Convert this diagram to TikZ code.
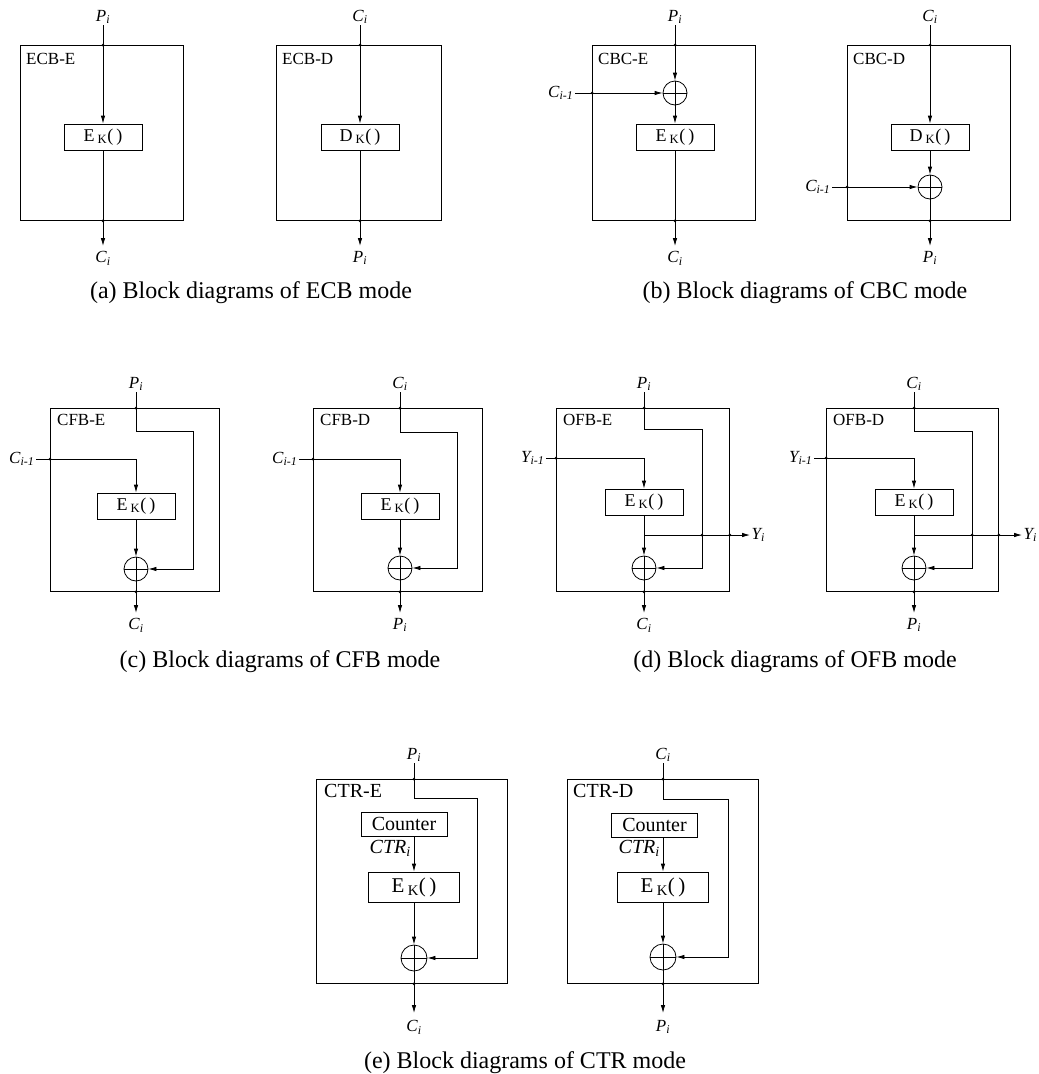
\documentclass[tikz,border=0pt]{standalone}
\usepackage{fontspec}
\setmainfont{Liberation Serif}
\usetikzlibrary{arrows.meta}
\begin{document}
\begin{tikzpicture}[x=1pt,y=-1pt,
  blk/.style={draw, line width=0.8pt, inner sep=0, anchor=north west},
  fn/.style={draw, line width=0.8pt, inner sep=0, minimum width=78pt, minimum height=26pt, font=\fontsize{18}{18}\selectfont},
  fnB/.style={fn, minimum width=91pt, minimum height=30pt, font=\fontsize{21}{21}\selectfont},
  ctrbox/.style={draw, line width=0.8pt, inner sep=0, minimum width=86pt, minimum height=24pt, font=\fontsize{20}{20}\selectfont},
  xor/.style={draw, circle, line width=0.8pt, inner sep=0, minimum size=24pt,
    path picture={\draw[line width=0.8pt] (path picture bounding box.north) -- (path picture bounding box.south) (path picture bounding box.west) -- (path picture bounding box.east);}},
  ttl/.style={anchor=base west, inner sep=0, font=\fontsize{17}{17}\selectfont},
  ttlB/.style={ttl, font=\fontsize{20}{20}\selectfont},
  lab/.style={inner sep=1.5pt, font=\fontsize{17}{17}\selectfont\itshape},
  labB/.style={lab, font=\fontsize{20}{20}\selectfont\itshape},
  olab/.style={lab, anchor=north, inner ysep=5pt},
  ilab/.style={lab, anchor=south, inner ysep=1pt},
  captxt/.style={anchor=base, inner sep=0, font=\fontsize{24}{24}\selectfont},
  dot/.style={circle, fill, inner sep=0, minimum size=3pt},
  arr/.style={-{Latex[length=8pt,width=4.5pt]}, line width=0.8pt}
]
\useasboundingbox (0,0) rectangle (1039,1074);

% ===== (a) ECB-E
\node[blk, minimum width=163pt, minimum height=175pt] (fA1) at (20,45) {};
\node[ttl] (tA1) at (26,64) {ECB-E};
\node[fn] (kA1) at (103,137) {E\,\textsubscript{K}(\,)};
\node[ilab] (iA1) at (103,25) {P\textsubscript{i}};
\node[olab] (oA1) at (103,246) {C\textsubscript{i}};
\draw[arr] (iA1) -- (kA1);
\draw[arr] (kA1) -- (oA1);
\node[dot] (dA1a) at (fA1.north -| kA1) {};
\node[dot] (dA1b) at (fA1.south -| kA1) {};

% ===== (a) ECB-D
\node[blk, minimum width=165pt, minimum height=175pt] (fA2) at (276,45) {};
\node[ttl] (tA2) at (282,64) {ECB-D};
\node[fn] (kA2) at (360,137) {D\,\textsubscript{K}(\,)};
\node[ilab] (iA2) at (360,25) {C\textsubscript{i}};
\node[olab] (oA2) at (360,246) {P\textsubscript{i}};
\draw[arr] (iA2) -- (kA2);
\draw[arr] (kA2) -- (oA2);
\node[dot] (dA2a) at (fA2.north -| kA2) {};
\node[dot] (dA2b) at (fA2.south -| kA2) {};

\node[captxt] (capA) at (251,298) {(a) Block diagrams of ECB mode};

% ===== (b) CBC-E
\node[blk, minimum width=163pt, minimum height=175pt] (fB1) at (592,45) {};
\node[ttl] (tB1) at (598,64) {CBC-E};
\node[xor] (xB1) at (675,93) {};
\node[fn] (kB1) at (675,137) {E\,\textsubscript{K}(\,)};
\node[ilab] (iB1) at (675,25) {P\textsubscript{i}};
\node[olab] (oB1) at (675,246) {C\textsubscript{i}};
\node[lab, anchor=east] (cB1) at (575,93) {C\textsubscript{i-1}};
\draw[arr] (iB1) -- (xB1);
\draw[arr] (xB1) -- (kB1);
\draw[arr] (kB1) -- (oB1);
\draw[arr] (cB1) -- (xB1);
\node[dot] (dB1a) at (fB1.north -| xB1) {};
\node[dot] (dB1b) at (fB1.south -| xB1) {};
\node[dot] (dB1c) at (fB1.west |- xB1) {};

% ===== (b) CBC-D
\node[blk, minimum width=163pt, minimum height=175pt] (fB2) at (847,45) {};
\node[ttl] (tB2) at (853,64) {CBC-D};
\node[fn] (kB2) at (930,137) {D\,\textsubscript{K}(\,)};
\node[xor] (xB2) at (930,187) {};
\node[ilab] (iB2) at (930,25) {C\textsubscript{i}};
\node[olab] (oB2) at (930,246) {P\textsubscript{i}};
\node[lab, anchor=east] (cB2) at (832,187) {C\textsubscript{i-1}};
\draw[arr] (iB2) -- (kB2);
\draw[arr] (kB2) -- (xB2);
\draw[arr] (xB2) -- (oB2);
\draw[arr] (cB2) -- (xB2);
\node[dot] (dB2a) at (fB2.north -| xB2) {};
\node[dot] (dB2b) at (fB2.south -| xB2) {};
\node[dot] (dB2c) at (fB2.west |- xB2) {};

\node[captxt] (capB) at (805,298) {(b) Block diagrams of CBC mode};

% ===== (c) CFB-E
\node[blk, minimum width=169pt, minimum height=183pt] (fC1) at (50,408) {};
\node[ttl] (tC1) at (57,425) {CFB-E};
\node[ilab] (iC1) at (136,392) {P\textsubscript{i}};
\coordinate (fbC1) at (193,431);
\node[fn] (kC1) at (136,506) {E\,\textsubscript{K}(\,)};
\node[lab, anchor=east] (cC1) at (36,459) {C\textsubscript{i-1}};
\node[xor] (xC1) at (136,569) {};
\node[olab] (oC1) at (136,613) {C\textsubscript{i}};
\draw[arr] (iC1.south) |- (fbC1) |- (xC1.east);
\draw[arr] (cC1.east) -| (kC1.north);
\draw[arr] (kC1) -- (xC1);
\draw[arr] (xC1) -- (oC1);
\node[dot] (dC1a) at (fC1.north -| xC1) {};
\node[dot] (dC1b) at (fC1.south -| xC1) {};
\node[dot] (dC1c) at (fC1.west |- cC1.east) {};

% ===== (c) CFB-D
\node[blk, minimum width=169pt, minimum height=183pt] (fC2) at (313,408) {};
\node[ttl] (tC2) at (320,425) {CFB-D};
\node[ilab] (iC2) at (400,392) {C\textsubscript{i}};
\coordinate (fbC2) at (457,432);
\node[fn] (kC2) at (400,506) {E\,\textsubscript{K}(\,)};
\node[lab, anchor=east] (cC2) at (299,459) {C\textsubscript{i-1}};
\node[xor] (xC2) at (400,568) {};
\node[olab] (oC2) at (400,613) {P\textsubscript{i}};
\draw[arr] (iC2.south) |- (fbC2) |- (xC2.east);
\draw[arr] (cC2.east) -| (kC2.north);
\draw[arr] (kC2) -- (xC2);
\draw[arr] (xC2) -- (oC2);
\node[dot] (dC2a) at (fC2.north -| xC2) {};
\node[dot] (dC2b) at (fC2.south -| xC2) {};
\node[dot] (dC2c) at (fC2.west |- cC2.east) {};

\node[captxt] (capC) at (280,667) {(c) Block diagrams of CFB mode};

% ===== (d) OFB-E
\node[blk, minimum width=173pt, minimum height=183pt] (fD1) at (556,408) {};
\node[ttl] (tD1) at (563,425) {OFB-E};
\node[ilab] (iD1) at (644,392) {P\textsubscript{i}};
\coordinate (fbD1) at (702,429);
\node[fn] (kD1) at (644,502) {E\,\textsubscript{K}(\,)};
\node[lab, anchor=east] (cD1) at (546,458) {Y\textsubscript{i-1}};
\node[xor] (xD1) at (644,568) {};
\node[olab] (oD1) at (644,613) {C\textsubscript{i}};
\coordinate (bD1) at (644,535);
\node[lab, anchor=west] (yD1) at (750,535) {Y\textsubscript{i}};
\draw[arr] (iD1.south) |- (fbD1) |- (xD1.east);
\draw[arr] (cD1.east) -| (kD1.north);
\draw[arr] (kD1) -- (xD1);
\draw[arr] (xD1) -- (oD1);
\draw[arr] (bD1) -- (yD1.west);
\node[dot] (dD1a) at (fD1.north -| xD1) {};
\node[dot] (dD1b) at (fD1.south -| xD1) {};
\node[dot] (dD1c) at (fD1.west |- cD1.east) {};
\node[dot] (dD1d) at (fbD1 |- bD1) {};
\node[dot] (dD1e) at (fD1.east |- bD1) {};

% ===== (d) OFB-D
\node[blk, minimum width=172pt, minimum height=183pt] (fD2) at (826,408) {};
\node[ttl] (tD2) at (833,425) {OFB-D};
\node[ilab] (iD2) at (914,392) {C\textsubscript{i}};
\coordinate (fbD2) at (972,431);
\node[fn] (kD2) at (914,502) {E\,\textsubscript{K}(\,)};
\node[lab, anchor=east] (cD2) at (814,458) {Y\textsubscript{i-1}};
\node[xor] (xD2) at (914,568) {};
\node[olab] (oD2) at (914,613) {P\textsubscript{i}};
\coordinate (bD2) at (914,535);
\node[lab, anchor=west] (yD2) at (1022,535) {Y\textsubscript{i}};
\draw[arr] (iD2.south) |- (fbD2) |- (xD2.east);
\draw[arr] (cD2.east) -| (kD2.north);
\draw[arr] (kD2) -- (xD2);
\draw[arr] (xD2) -- (oD2);
\draw[arr] (bD2) -- (yD2.west);
\node[dot] (dD2a) at (fD2.north -| xD2) {};
\node[dot] (dD2b) at (fD2.south -| xD2) {};
\node[dot] (dD2c) at (fD2.west |- cD2.east) {};
\node[dot] (dD2d) at (fbD2 |- bD2) {};
\node[dot] (dD2e) at (fD2.east |- bD2) {};

\node[captxt] (capD) at (795,667) {(d) Block diagrams of OFB mode};

% ===== (e) CTR-E
\node[blk, minimum width=191pt, minimum height=204pt] (fE1) at (316,779) {};
\node[ttlB] (tE1) at (324,797) {CTR-E};
\node[ilab] (iE1) at (414,763) {P\textsubscript{i}};
\coordinate (fbE1) at (477,798);
\node[ctrbox] (cE1) at (404,824) {Counter};
\node[labB, anchor=base east, inner sep=0] (lE1) at (411,853) {CTR\textsubscript{i}};
\node[fnB] (kE1) at (414,887) {E\,\textsubscript{K}(\,)};
\node[xor, minimum size=26pt] (xE1) at (414,958) {};
\node[olab, inner ysep=7pt] (oE1) at (414,1013) {C\textsubscript{i}};
\draw[arr] (iE1.south) |- (fbE1) |- (xE1.east);
\draw[arr] (cE1.south -| kE1.north) -- (kE1.north);
\draw[arr] (kE1) -- (xE1);
\draw[arr] (xE1) -- (oE1);
\node[dot] (dE1a) at (fE1.north -| xE1) {};
\node[dot] (dE1b) at (fE1.south -| xE1) {};

% ===== (e) CTR-D
\node[blk, minimum width=191pt, minimum height=204pt] (fE2) at (567,779) {};
\node[ttlB] (tE2) at (573,797) {CTR-D};
\node[ilab] (iE2) at (663,763) {C\textsubscript{i}};
\coordinate (fbE2) at (728,799);
\node[ctrbox] (cE2) at (654.5,825) {Counter};
\node[labB, anchor=base east, inner sep=0] (lE2) at (660,853) {CTR\textsubscript{i}};
\node[fnB] (kE2) at (663,887) {E\,\textsubscript{K}(\,)};
\node[xor, minimum size=26pt] (xE2) at (663,957) {};
\node[olab, inner ysep=7pt] (oE2) at (663,1013) {P\textsubscript{i}};
\draw[arr] (iE2.south) |- (fbE2) |- (xE2.east);
\draw[arr] (cE2.south -| kE2.north) -- (kE2.north);
\draw[arr] (kE2) -- (xE2);
\draw[arr] (xE2) -- (oE2);
\node[dot] (dE2a) at (fE2.north -| xE2) {};
\node[dot] (dE2b) at (fE2.south -| xE2) {};

\node[captxt] (capE) at (525,1068) {(e) Block diagrams of CTR mode};
\end{tikzpicture}
\end{document}
